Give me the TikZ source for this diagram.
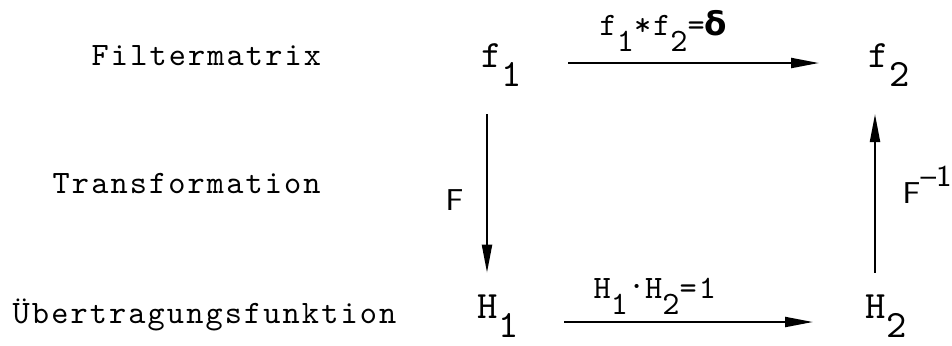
\documentclass[tikz,border=0pt]{standalone}
\usepackage{fontspec}
\setmonofont{lmmono10-regular.otf}[LetterSpace=6.5]
\newfontfamily\deltafont{DejaVu Sans}
\usetikzlibrary{arrows.meta}
\newcommand{\tief}[1]{\raisebox{-0.5em}{#1}}

\begin{document}
\begin{tikzpicture}[
	rowtext/.style={anchor=base west, inner sep=0pt, font=\fontsize{9.3}{11}\selectfont\ttfamily},
	term/.style={anchor=base west, inner sep=0pt, font=\fontsize{11}{13}\selectfont\ttfamily},
	oplabel/.style={anchor=base west, inner sep=0pt, font=\fontsize{9.3}{11}\selectfont\ttfamily},
	trlabel/.style={anchor=base west, inner sep=0pt, font=\fontsize{8.6}{10}\selectfont\sffamily},
	oparrow/.style={line width=0.6pt, -{Triangle[length=2.8mm, width=1mm]}},
	]
	\useasboundingbox (0, 0) rectangle (9.52, 3.45);
	% Zeilen:
	\node[rowtext] (filter) at (0.91, 2.80){Filtermatrix};
	\node[rowtext] (trafo) at (0.52, 1.52){Transformation};
	\node[rowtext] (uebertr) at (0.12, 0.22){Übertragungsfunktion};
	% Terme und Pfeile:
	\node[term] (f1) at (4.81, 2.78){f\tief{1}};
	\node[term] (f2) at (8.68, 2.78){f\tief{2}};
	\node[term] (H1) at (4.77, 0.27){H\tief{1}};
	\node[term] (H2) at (8.65, 0.27){H\tief{2}};
	\draw[oparrow, shorten <=4.5mm, shorten >=4.9mm] ([yshift=0.4mm]f1.base east) -- ([yshift=0.4mm]f2.base west);
	\draw[oparrow, shorten <=4.5mm, shorten >=5.2mm] ([yshift=-0.4mm]H1.base east) -- ([yshift=-0.4mm]H2.base west);
	\draw[oparrow, shorten <=2.7mm, shorten >=2.1mm] ([xshift=0.6mm]f1.south west) -- ([xshift=0.6mm]f1.south west |- H1.north);
	\draw[oparrow, shorten <=2.1mm, shorten >=2.7mm] ([xshift=1mm]H2.north west) -- ([xshift=1mm]H2.north west |- f2.south);
	\node[oplabel] (faltung) at (5.99, 3.10){f\tief{1}*f\tief{2}={\deltafont\bfseries δ}};
	\node[oplabel] (produkt) at (5.93, 0.47){H\tief{1}\raisebox{0.3em}{.}H\tief{2}=1};
	\node[trlabel] (hin) at (4.45, 1.35){F};
	\node[trlabel] (rueck) at (9.02, 1.42){F\raisebox{0.55em}{--1}};
\end{tikzpicture}
\end{document}
